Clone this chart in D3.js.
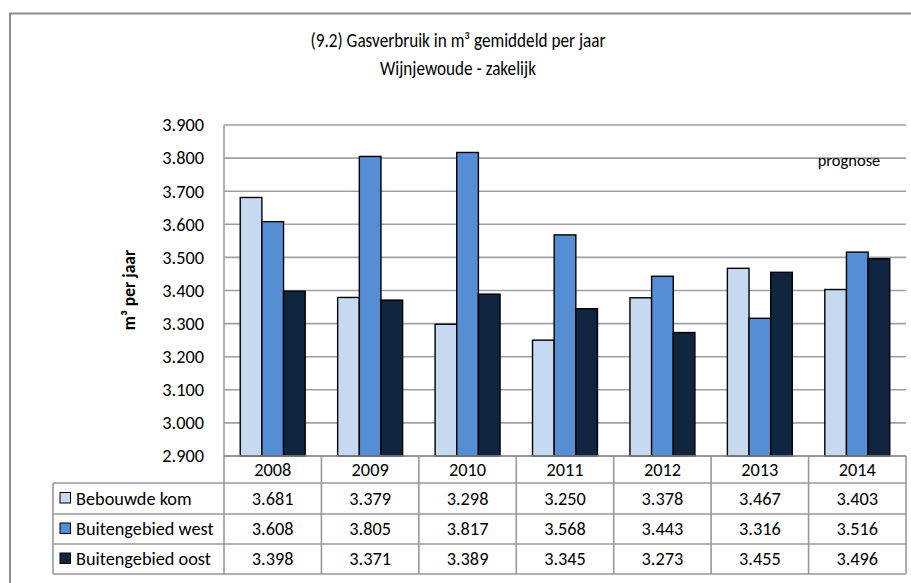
<!DOCTYPE html>
<html>
<head>
<meta charset="utf-8">
<script src="https://cdn.jsdelivr.net/npm/d3@7"></script>
<style>
  body { margin: 0; background: #fff; }
  svg { display: block; font-family: Carlito, Calibri, Lato, sans-serif; }
</style>
</head>
<body>
<svg id="chart" width="911" height="583"></svg>
<script>
const years = ['2008', '2009', '2010', '2011', '2012', '2013', '2014'];
const seriesNames = ['Bebouwde kom', 'Buitengebied west', 'Buitengebied oost'];
const bebouwdeKom = [3681, 3379, 3298, 3250, 3378, 3467, 3403];
const buitengebiedWest = [3608, 3805, 3817, 3568, 3443, 3316, 3516];
const buitengebiedOost = [3398, 3371, 3389, 3345, 3273, 3455, 3496];
const yTicks = [2900, 3000, 3100, 3200, 3300, 3400, 3500, 3600, 3700, 3800, 3900];
const colors = ['#c6d9f1', '#558ed5', '#10253f'];

const seriesValues = [bebouwdeKom, buitengebiedWest, buitengebiedOost];

const nl = d3.formatLocale({ decimal: ',', thousands: '.', grouping: [3], currency: ['€', ''] });
const fmt = nl.format(',d');

const svg = d3.select('#chart');
const plot = { left: 224, right: 906, top: 125, bottom: 456 };
const grid = '#a0a0a0';
const fs = '18.3px';

// squeeze text a bit so a larger size keeps the narrow Calibri-like width
function condense(sel, k) {
  sel.each(function () {
    const len = this.getComputedTextLength();
    d3.select(this).attr('textLength', len * k).attr('lengthAdjust', 'spacingAndGlyphs');
  });
}

// chart frame
svg.append('path')
  .attr('d', `M10,${583 + 5} V13.5 H${911 + 5}`)
  .attr('fill', 'none')
  .attr('stroke', '#8c8c8c')
  .attr('stroke-width', 2);

const titles = svg.append('g')
  .selectAll('text')
  .data(['(9.2) Gasverbruik in m³ gemiddeld per jaar', 'Wijnjewoude - zakelijk'])
  .join('text')
  .attr('x', 458).attr('y', (d, i) => 47 + i * 28)
  .attr('text-anchor', 'middle')
  .style('font-size', '19.5px')
  .text(d => d);
condense(titles, 0.88);

const x = d3.scaleBand()
  .domain(years)
  .range([plot.left, plot.right])
  .padding(0);

const xs = d3.scaleBand()
  .domain(d3.range(seriesNames.length))
  .range([0, x.bandwidth()])
  .paddingInner(0)
  .paddingOuter(0.75);

const y = d3.scaleLinear()
  .domain([yTicks[0], yTicks[yTicks.length - 1]])
  .range([plot.bottom, plot.top]);

// gridlines
svg.append('g')
  .selectAll('line')
  .data(yTicks)
  .join('line')
  .attr('x1', plot.left).attr('x2', plot.right)
  .attr('y1', d => y(d)).attr('y2', d => y(d))
  .attr('stroke', grid)
  .attr('stroke-width', 1.6);

svg.append('line')
  .attr('x1', plot.left).attr('x2', plot.left)
  .attr('y1', plot.top).attr('y2', plot.bottom)
  .attr('stroke', grid).attr('stroke-width', 1.6);

// y axis labels
const yAxis = svg.append('g')
  .attr('transform', `translate(${plot.left},0)`)
  .call(d3.axisLeft(y).tickValues(yTicks).tickFormat(fmt).tickSize(0).tickPadding(20));
yAxis.select('.domain').remove();
yAxis.selectAll('text')
  .style('font-size', fs)
  .style('font-family', 'Carlito, Calibri, Lato, sans-serif')
  .attr('fill', '#000');

svg.append('text')
  .attr('transform', 'translate(135,290) rotate(-90)')
  .attr('text-anchor', 'middle')
  .style('font-size', '17.5px')
  .style('font-weight', 'bold')
  .text('m³ per jaar');

// bars
const barData = years.flatMap((yr, i) => seriesValues.map((vals, s) => ({ year: yr, s, value: vals[i] })));
svg.append('g')
  .selectAll('rect')
  .data(barData)
  .join('rect')
  .attr('x', d => x(d.year) + xs(d.s))
  .attr('y', d => y(d.value))
  .attr('width', xs.bandwidth())
  .attr('height', d => plot.bottom - y(d.value))
  .attr('fill', d => colors[d.s])
  .attr('stroke', '#000')
  .attr('stroke-width', 1.4);

svg.append('text')
  .attr('x', 849).attr('y', 166)
  .attr('text-anchor', 'middle')
  .style('font-size', '16.5px')
  .text('prognose');

// data table
const tableLeft = 53;
const headerTop = plot.bottom;
const rowTops = [483, 514, 544, 574];
const tbl = svg.append('g').attr('fill', 'none').attr('stroke', '#999').attr('stroke-width', 1.6);

tbl.selectAll('line.h')
  .data(rowTops)
  .join('line')
  .attr('x1', tableLeft).attr('x2', plot.right)
  .attr('y1', d => d).attr('y2', d => d);
tbl.selectAll('line.v')
  .data(years.map(yr => x(yr)).concat([plot.right]))
  .join('line')
  .attr('x1', d => d).attr('x2', d => d)
  .attr('y1', headerTop).attr('y2', rowTops[rowTops.length - 1]);
tbl.append('line')
  .attr('x1', tableLeft).attr('x2', tableLeft)
  .attr('y1', rowTops[0]).attr('y2', rowTops[rowTops.length - 1]);

svg.append('line')
  .attr('x1', plot.left).attr('x2', plot.right)
  .attr('y1', plot.bottom).attr('y2', plot.bottom)
  .attr('stroke', '#8c8c8c').attr('stroke-width', 1.6);

svg.append('g')
  .selectAll('text')
  .data(years)
  .join('text')
  .attr('x', d => x(d) + x.bandwidth() / 2)
  .attr('y', (headerTop + rowTops[0]) / 2 + 6)
  .attr('text-anchor', 'middle')
  .style('font-size', fs)
  .text(d => d);

seriesNames.forEach((name, s) => {
  const mid = (rowTops[s] + rowTops[s + 1]) / 2;
  svg.append('rect')
    .attr('x', 60).attr('y', mid - 6)
    .attr('width', 10.5).attr('height', 10.5)
    .attr('fill', colors[s])
    .attr('stroke', '#000').attr('stroke-width', 1);
  svg.append('text')
    .attr('x', 76).attr('y', mid + 6)
    .style('font-size', fs)
    .text(name);
  svg.append('g')
    .selectAll('text')
    .data(seriesValues[s])
    .join('text')
    .attr('x', (d, i) => x(years[i]) + x.bandwidth() / 2)
    .attr('y', mid + 6)
    .attr('text-anchor', 'middle')
    .style('font-size', fs)
    .text(d => fmt(d));
});
</script>
</body>
</html>
